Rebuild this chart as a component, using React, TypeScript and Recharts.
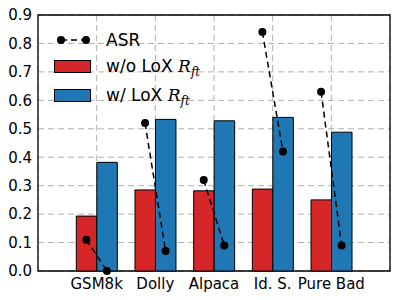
import React from "react";
import {
  ComposedChart,
  Bar,
  Scatter,
  XAxis,
  YAxis,
  CartesianGrid,
  ReferenceArea,
} from "recharts";

document.body.style.margin = "0";

const categories = ["GSM8k", "Dolly", "Alpaca", "Id. S.", "Pure Bad"];
const withoutLox = [0.193, 0.285, 0.282, 0.288, 0.25];
const withLox = [0.382, 0.533, 0.528, 0.54, 0.488];
const asrBefore = [0.11, 0.52, 0.32, 0.84, 0.63];
const asrAfter = [0.0, 0.07, 0.09, 0.42, 0.09];
const yTicks = [0, 0.1, 0.2, 0.3, 0.4, 0.5, 0.6, 0.7, 0.8, 0.9];
const xTicks = [1, 2, 3, 4, 5];

const RED = "#d62728";
const BLUE = "#1f77b4";
const FONT = "DejaVu Sans";
const BAR_OFFSET = 0.175;

const barData = categories.map((name, i) => ({
  name,
  without: withoutLox[i],
  with: withLox[i],
}));

// one segment per category, from the red bar centre to the blue bar centre
const asrSegments = categories.map((_, i) => [
  { x: i + 1 - BAR_OFFSET, y: asrBefore[i] },
  { x: i + 1 + BAR_OFFSET, y: asrAfter[i] },
]);

const tickStyle = { fill: "#000", fontSize: 15, fontFamily: FONT };

const Dot = (props: any) => <circle cx={props.cx} cy={props.cy} r={4} fill="#000" />;
const NoLabel = () => <g />;

function LegendOverlay() {
  const text = { fontFamily: FONT, fontSize: 17, fill: "#000" };
  const math = { fontFamily: "DejaVu Serif", fontStyle: "italic" as const };
  return (
    <svg
      width={399}
      height={300}
      style={{ position: "absolute", left: 0, top: 0, pointerEvents: "none" }}
    >
      <line x1={61} y1={40} x2={86} y2={40} stroke="#000" strokeWidth={1.5} strokeDasharray="6 4" />
      <circle cx={61} cy={40} r={4} fill="#000" />
      <circle cx={86} cy={40} r={4} fill="#000" />
      <text x={106} y={46} {...text}>ASR</text>

      <rect x={54.5} y={60.5} width={36} height={12} fill={RED} stroke="#000" />
      <text x={106} y={72} {...text}>
        w/o LoX <tspan {...math}>R</tspan>
        <tspan {...math} fontSize={12} dy={4}>ft</tspan>
      </text>

      <rect x={54.5} y={89.5} width={36} height={12} fill={BLUE} stroke="#000" />
      <text x={106} y={101} {...text}>
        w/ LoX <tspan {...math}>R</tspan>
        <tspan {...math} fontSize={12} dy={4}>ft</tspan>
      </text>
    </svg>
  );
}

export default function App() {
  return (
    <div style={{ position: "relative", width: 399, height: 300, background: "#fff" }}>
      <ComposedChart
        width={399}
        height={300}
        data={barData}
        margin={{ top: 15, right: 9, bottom: 0, left: 0 }}
        barGap={0}
        barSize={20.5}
      >
        <CartesianGrid
          xAxisId="num"
          yAxisId="left"
          stroke="#b0b0b0"
          strokeDasharray="6 4"
        />
        <XAxis
          xAxisId="num"
          type="number"
          dataKey="x"
          domain={[0, 6]}
          ticks={xTicks}
          tickFormatter={(v: number) => categories[v - 1] ?? ""}
          interval={0}
          height={29}
          tickSize={0}
          tickMargin={7}
          tickLine={false}
          axisLine={false}
          tick={tickStyle}
        />
        <XAxis
          xAxisId="cat"
          dataKey="name"
          hide
          height={0}
          padding={{ left: 29.3, right: 29.3 }}
        />
        <YAxis
          yAxisId="left"
          type="number"
          domain={[0, 0.9]}
          ticks={yTicks}
          tickFormatter={(v: number) => v.toFixed(1)}
          width={38}
          tickSize={0}
          tickMargin={6}
          tickLine={false}
          axisLine={false}
          tick={tickStyle}
        />
        <YAxis
          yAxisId="leftIn"
          type="number"
          domain={[0, 0.9]}
          ticks={yTicks}
          mirror
          width={0}
          tickSize={4}
          tick={NoLabel}
          axisLine={false}
          tickLine={{ stroke: "#000" }}
        />
        <YAxis
          yAxisId="right"
          orientation="right"
          type="number"
          domain={[0, 0.9]}
          ticks={yTicks}
          mirror
          width={0}
          tickSize={4}
          tick={NoLabel}
          axisLine={false}
          tickLine={{ stroke: "#000" }}
        />
        <Bar
          xAxisId="cat"
          yAxisId="left"
          dataKey="without"
          fill={RED}
          stroke="#000"
          strokeWidth={1}
          isAnimationActive={false}
        />
        <Bar
          xAxisId="cat"
          yAxisId="left"
          dataKey="with"
          fill={BLUE}
          stroke="#000"
          strokeWidth={1}
          isAnimationActive={false}
        />
        {asrSegments.map((seg, i) => (
          <Scatter
            key={`asr-${i}`}
            xAxisId="num"
            yAxisId="left"
            data={seg}
            dataKey="y"
            line={{ stroke: "#000", strokeWidth: 1.5, strokeDasharray: "6 4" }}
            shape={Dot}
            isAnimationActive={false}
          />
        ))}
        <ReferenceArea
          xAxisId="num"
          yAxisId="left"
          x1={0}
          x2={6}
          y1={0}
          y2={0.9}
          fill="none"
          stroke="#000"
          strokeWidth={1.3}
          ifOverflow="visible"
        />
      </ComposedChart>
      <LegendOverlay />
    </div>
  );
}
